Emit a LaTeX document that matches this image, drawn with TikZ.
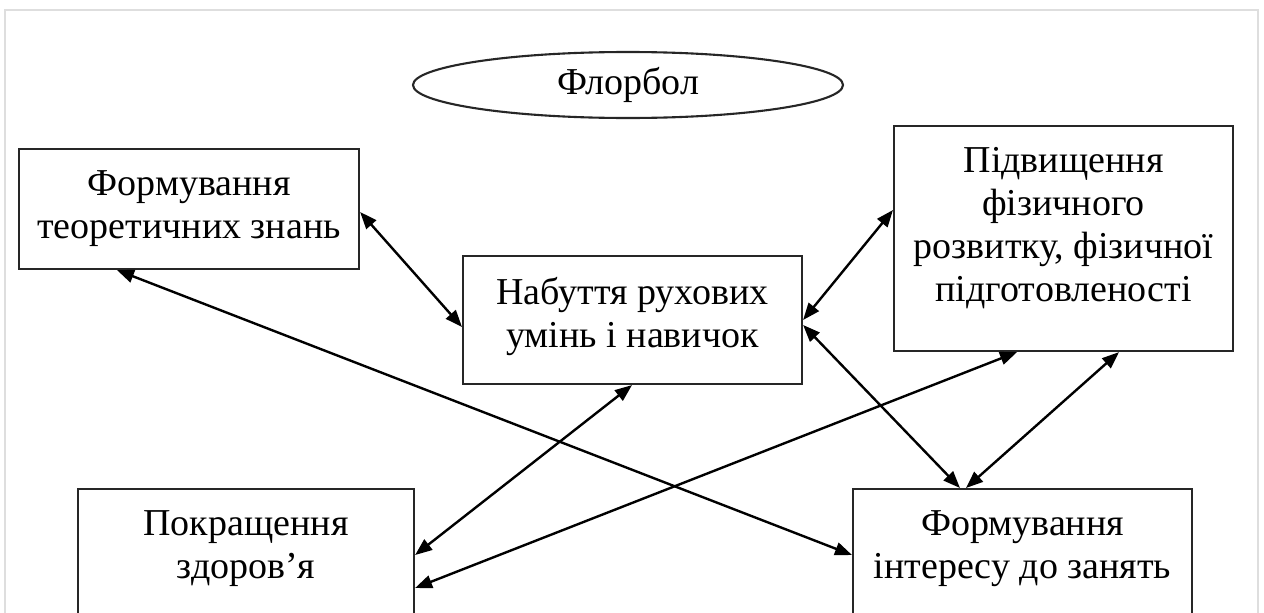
\documentclass[tikz,border=0pt]{standalone}
\usepackage{fontspec}
\setmainfont{Liberation Serif}
\usetikzlibrary{arrows.meta,shapes.geometric,calc}
\begin{document}
\begin{tikzpicture}[x=1pt,y=-1pt,
  every node/.style={font=\fontsize{38}{43}\selectfont},
  boxn/.style={draw=black!85,line width=2.1pt,rectangle,inner sep=0pt,anchor=north west},
  txt/.style={align=center,inner sep=0pt,anchor=north},
  link/.style={line width=2.4pt,{Triangle[length=17pt,width=13pt]}-{Triangle[length=17pt,width=13pt]}}
]
\useasboundingbox (0,0) rectangle (1264,613);
\clip (0,0) rectangle (1264,613);
\fill[white] (0,0) rectangle (1264,613);
\draw[black!13,line width=1.5pt] (5,640) -- (5,10) -- (1258,10) -- (1258,640);

\node[ellipse,draw=black!85,line width=2.1pt,minimum width=430pt,minimum height=66pt,inner sep=0pt] (flo) at (628,85) {Флорбол};

\node[boxn,minimum width=340pt,minimum height=120pt] (b1) at (18,148) {};
\node[boxn,minimum width=339pt,minimum height=128pt] (b2) at (462,255) {};
\node[boxn,minimum width=339pt,minimum height=225pt] (b3) at (893,125) {};
\node[boxn,minimum width=336pt,minimum height=160pt] (b4) at (77,488) {};
\node[boxn,minimum width=339pt,minimum height=160pt] (b5) at (852,488) {};

\node[txt] (t1) at ([yshift=-22pt]b1.north) {Формування\\теоретичних знань};
\node[txt] (t2) at ([yshift=-22pt]b2.north) {Набуття рухових\\умінь і навичок};
\node[txt] (t3) at ([yshift=-22pt]b3.north) {Підвищення\\фізичного\\розвитку, фізичної\\підготовленості};
\node[txt] (t4) at ([yshift=-22pt]b4.north) {Покращення\\здоров’я};
\node[txt] (t5) at ([yshift=-22pt]b5.north) {Формування\\інтересу до занять};

\draw[link] ([yshift=-64pt]b1.north east) -- ([yshift=-72pt]b2.north west);
\draw[link] ([yshift=-65pt]b2.north east) -- ([yshift=-85pt]b3.north west);
\draw[link] ([yshift=-70pt]b2.north east) -- ([xshift=108pt]b5.north west);
\draw[link] ([xshift=226pt]b3.south west) -- ([xshift=114pt]b5.north west);
\draw[link] ([xshift=124pt]b3.south west) -- ([yshift=-100pt]b4.north east);
\draw[link] ([xshift=170pt]b2.south west) -- ([yshift=-67pt]b4.north east);
\draw[link] ([xshift=99pt]b1.south west) -- ([yshift=-67pt]b5.north west);
\end{tikzpicture}
\end{document}
